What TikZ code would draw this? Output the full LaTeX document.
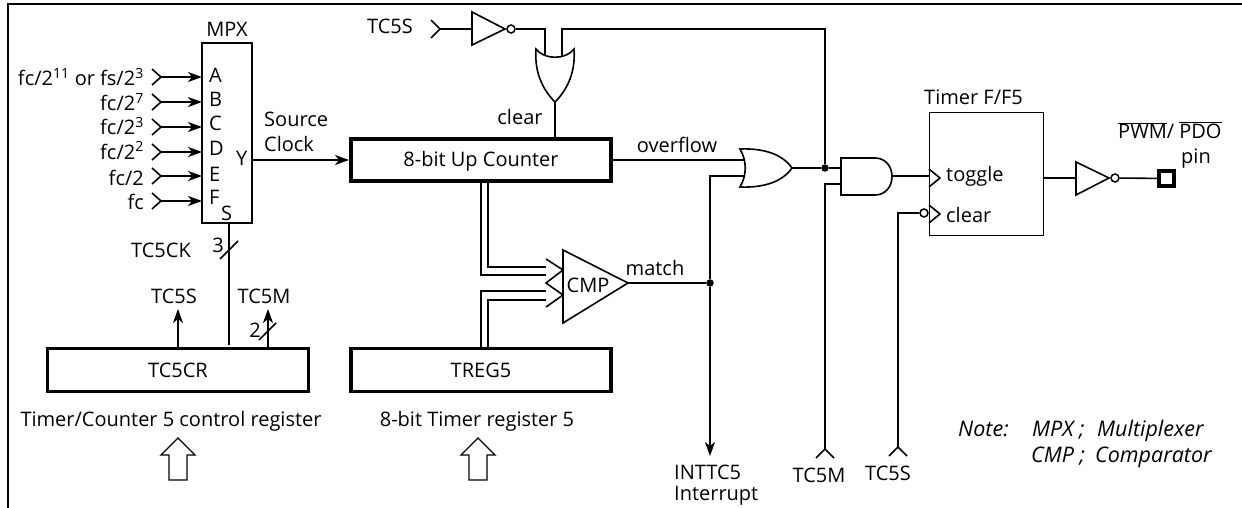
\documentclass[tikz,border=0pt]{standalone}
\usepackage{fontspec}
\setmainfont{Open Sans}
\usetikzlibrary{arrows.meta}
\newcommand{\ovlbar}[1]{\leavevmode\vbox{\hrule height .8pt \kern 1.4pt\hbox{#1}}}
\tikzset{
  wire/.style={line width=1.6pt},
  sig/.style={wire,-{Stealth[length=14pt,width=10pt,inset=4pt]}},
  gate/.style={line width=1.6pt,line join=miter,fill=white},
  frame/.style={line width=2.2pt},
  fatbox/.style={draw,line width=3.8pt,inner sep=0pt,text height=14pt,text depth=0pt,font=\fontsize{20}{22}\selectfont},
  thinbox/.style={draw,line width=1.7pt,inner sep=0pt},
  lab/.style={inner sep=0pt,font=\fontsize{20}{22}\selectfont,anchor=base},
  labl/.style={lab,anchor=base west},
  labr/.style={lab,anchor=base east},
  note/.style={labl,font=\fontsize{21.5}{24}\selectfont\itshape},
  bubble/.style={circle,draw,line width=1.5pt,fill=white,inner sep=0pt,minimum size=8pt},
  dot/.style={circle,fill=black,inner sep=0pt,minimum size=7.5pt},
  pad/.style={draw,line width=3.6pt,fill=white,inner sep=0pt,minimum size=15.5pt},
}
\begin{document}
\begin{tikzpicture}[x=1pt,y=-1pt]
\useasboundingbox (0,0) rectangle (1242,508);
% frame
\coordinate (fa) at (8,508); \coordinate (fb) at (8,4); \coordinate (fc) at (1242,4);
\draw[frame] (fa) -- (fb) -- (fc);

% boxes
\node[thinbox,minimum width=50pt,minimum height=180pt] (mpx) at (227,133) {};
\node[fatbox,minimum width=260pt,minimum height=42pt] (counter) at (481,160) {8-bit Up Counter};
\node[fatbox,minimum width=260pt,minimum height=43pt] (treg) at (481,370) {TREG5};
\node[fatbox,minimum width=261pt,minimum height=43pt] (tccr) at (178,370) {TC5CR};
\node[thinbox,minimum width=114pt,minimum height=123pt] (ff) at (986.5,174) {};

% MPX texts
\node[lab] (tmpx) at (227,37) {MPX};
\foreach \n/\t/\yy in {pa/A/83,pb/B/107,pc/C/131,pd/D/155,pe/E/181,pf/F/204}
  \node[labl] (\n) at (209,\yy) {\t};
\node[labl] (py) at (236,165) {Y};
\node[labl] (ps) at (221,220) {S};
\node[labr] (ia) at (144,86) {fc/2\textsuperscript{11} or fs/2\textsuperscript{3}};
\node[labr] (ib) at (144,111) {fc/2\textsuperscript{7}};
\node[labr] (ic) at (144,135) {fc/2\textsuperscript{3}};
\node[labr] (id) at (144,159) {fc/2\textsuperscript{2}};
\node[labr] (ie) at (144,185) {fc/2};
\node[labr] (if) at (144,209) {fc};

% MPX inputs
\foreach \n/\yy in {ca/77,cb/102,cc/127,cd/152,ce/176,cf/201}{
  \coordinate (\n) at (161,\yy);
  \coordinate (\n e) at (202,\yy);
  \coordinate (\n u) at (152,\yy-8);
  \coordinate (\n d) at (152,\yy+8);
  \draw[wire] (\n u) -- (\n) -- (\n d);
  \draw[sig] (\n) -- (\n e);
}

% MPX output
\node[labl] (tsource) at (264,127) {Source};
\node[labl] (tclock) at (264,152) {Clock};
\coordinate (yout) at (252,160);
\coordinate (cin) at (349,160);
\draw[sig] (yout) -- (cin);

% select
\coordinate (smpx) at (229,223);
\coordinate (stc) at (229,345);
\draw[wire] (smpx) -- (stc);
\coordinate (s3a) at (220,259); \coordinate (s3b) at (238,241);
\draw[wire] (s3a) -- (s3b);
\node[lab] (tck) at (161,257) {TC5CK};
\node[lab] (t3) at (218,252) {3};

% TC5CR outputs
\coordinate (ssrc) at (178,347); \coordinate (sdst) at (178,309);
\draw[sig] (ssrc) -- (sdst);
\node[lab] (ts1) at (174,303) {TC5S};
\coordinate (msrc) at (268,347); \coordinate (mdst) at (268,309);
\draw[sig] (msrc) -- (mdst);
\node[lab] (tm1) at (264,303) {TC5M};
\coordinate (m2a) at (259,340); \coordinate (m2b) at (276,323);
\draw[wire] (m2a) -- (m2b);
\node[lab] (t2) at (255,337) {2};

% caption + hollow arrows
\node[lab] (cap1) at (171,426) {Timer/Counter 5 control register};
\node[lab] (cap2) at (477,426) {8-bit Timer register 5};
\draw[gate,line width=1.4pt] (178,438) -- (195,455) -- (187,455) -- (187,480) -- (169,480) -- (169,455) -- (161,455) -- cycle;
\draw[gate,line width=1.4pt] (478,438) -- (495,455) -- (487,455) -- (487,480) -- (469,480) -- (469,455) -- (461,455) -- cycle;

% top: TC5S inverter
\node[lab] (ts2) at (390,34) {TC5S};
\coordinate (chev) at (440,29);
\coordinate (chevu) at (431,20); \coordinate (chevd) at (431,38);
\draw[wire] (chevu) -- (chev) -- (chevd);
\coordinate (inv1in) at (472,29);
\draw[wire] (chev) -- (inv1in);
\draw[gate] (472,12) -- (505,29) -- (472,45) -- cycle;
\node[bubble] (inv1o) at (511,29) {};

% OR gate 1
\coordinate (or1a) at (545,55); \coordinate (or1b) at (562,56);
\coordinate (or1ac) at (545,29); \coordinate (or1bc) at (562,29);
\coordinate (or1o) at (555,102);
\draw[wire] (inv1o) -- (or1ac) -- (or1a);
\node[dot] (j1) at (825,168) {};
\draw[wire] (or1b) -- (or1bc) -- (j1 |- or1bc) -- (j1);
\draw[gate] (536,49) .. controls (544,60) and (566,60) .. (574,49) .. controls (576,75) and (565,92) .. (or1o) .. controls (545,92) and (534,75) .. cycle;
\coordinate (cclr) at (555,137);
\draw[wire] (or1o) -- (cclr);
\node[lab] (tclear) at (520,125) {clear};

% OR gate 2
\coordinate (ov1) at (613,160); \coordinate (ov2) at (745,160);
\draw[wire] (ov1) -- (ov2);
\node[lab] (tov) at (677,153) {overflow};
\node[dot] (j2) at (710,283) {};
\coordinate (or2b) at (745,176);
\coordinate (intt) at (710,456);
\draw[wire] (or2b) -- (j2 |- or2b) -- (j2);
\draw[sig] (j2) -- (intt);
\draw[gate] (740,149) .. controls (765,148) and (783,155) .. (792,168) .. controls (783,181) and (765,188) .. (740,187) .. controls (747,175) and (747,161) .. cycle;
\coordinate (or2o) at (792,168);
\draw[wire] (or2o) -- (j1);

% AND gate
\coordinate (and1) at (841,168); \coordinate (and2) at (841,184); \coordinate (ando) at (892,176);
\draw[wire] (j1) -- (and1);
\coordinate (tm2t) at (825,449);
\coordinate (tm2u) at (816,458); \coordinate (tm2d) at (834,458);
\draw[wire] (and2) -- (tm2t |- and2) -- (tm2t);
\draw[wire] (tm2u) -- (tm2t) -- (tm2d);
\node[lab] (tm2) at (819,482) {TC5M};
\draw[gate] (841,158) -- (875,158) .. controls (885,158) and (892,166) .. (892,176.5) .. controls (892,187) and (885,195) .. (875,195) -- (841,195) -- cycle;
\coordinate (ffck) at (929,176);
\draw[wire] (ando) -- (ffck);

% Timer F/F
\node[labl] (tff) at (924,105) {Timer F/F5};
\coordinate (ckt) at (929,169); \coordinate (cka) at (940,178); \coordinate (ckb) at (929,187);
\draw[wire] (ckt) -- (cka) -- (ckb);
\coordinate (clt) at (929,205); \coordinate (cla) at (940,214); \coordinate (clb) at (929,223);
\draw[wire] (clt) -- (cla) -- (clb);
\node[bubble] (clrb) at (924,213) {};
\coordinate (ts3t) at (898,447);
\coordinate (ts3u) at (889,456); \coordinate (ts3d) at (907,456);
\draw[wire] (clrb) -- (ts3t |- clrb) -- (ts3t);
\draw[wire] (ts3u) -- (ts3t) -- (ts3d);
\node[lab] (ts3) at (888,480) {TC5S};
\node[labl] (ttog) at (946,181) {toggle};
\node[labl] (tclr) at (946,222) {clear};

% output inverter
\coordinate (ffo) at (1044,178); \coordinate (inv2in) at (1076,178);
\draw[wire] (ffo) -- (inv2in);
\draw[gate] (1076,162) -- (1109,178) -- (1076,195) -- cycle;
\node[bubble] (inv2o) at (1115,178) {};
\node[pad] (pin) at (1166.5,178.5) {};
\draw[wire] (inv2o) -- (pin);
\node[labl] (tpwm) at (1118,139) {\ovlbar{PWM}/ \ovlbar{PDO}};
\node[lab] (tpin) at (1196,164) {pin};

% comparator and buses
\draw[wire] (481,183) -- (481,275) -- (546,275);
\draw[wire] (488,183) -- (488,267) -- (546,267);
\draw[wire] (481,347) -- (481,291) -- (546,291);
\draw[wire] (488,347) -- (488,300) -- (546,300);
\draw[wire] (546,259) -- (563,270) -- (546,283) -- (563,295) -- (546,307);
\draw[gate] (563,250) -- (628,283) -- (563,323) -- cycle;
\node[lab] (tcmp) at (588,292) {CMP};
\coordinate (cmpo) at (628,283);
\draw[wire] (cmpo) -- (j2);
\node[lab] (tmatch) at (655,275) {match};
\node[labl] (tint1) at (674,479) {INTTC5};
\node[labl] (tint2) at (674,500) {Interrupt};

% note
\node[note] (n1) at (958,436) {Note:};
\node[note] (n2) at (1032,436) {MPX ;};
\node[note] (n3) at (1097,436) {Multiplexer};
\node[note] (n4) at (1031,462) {CMP ;};
\node[note] (n5) at (1095,462) {Comparator};
\end{tikzpicture}
\end{document}
